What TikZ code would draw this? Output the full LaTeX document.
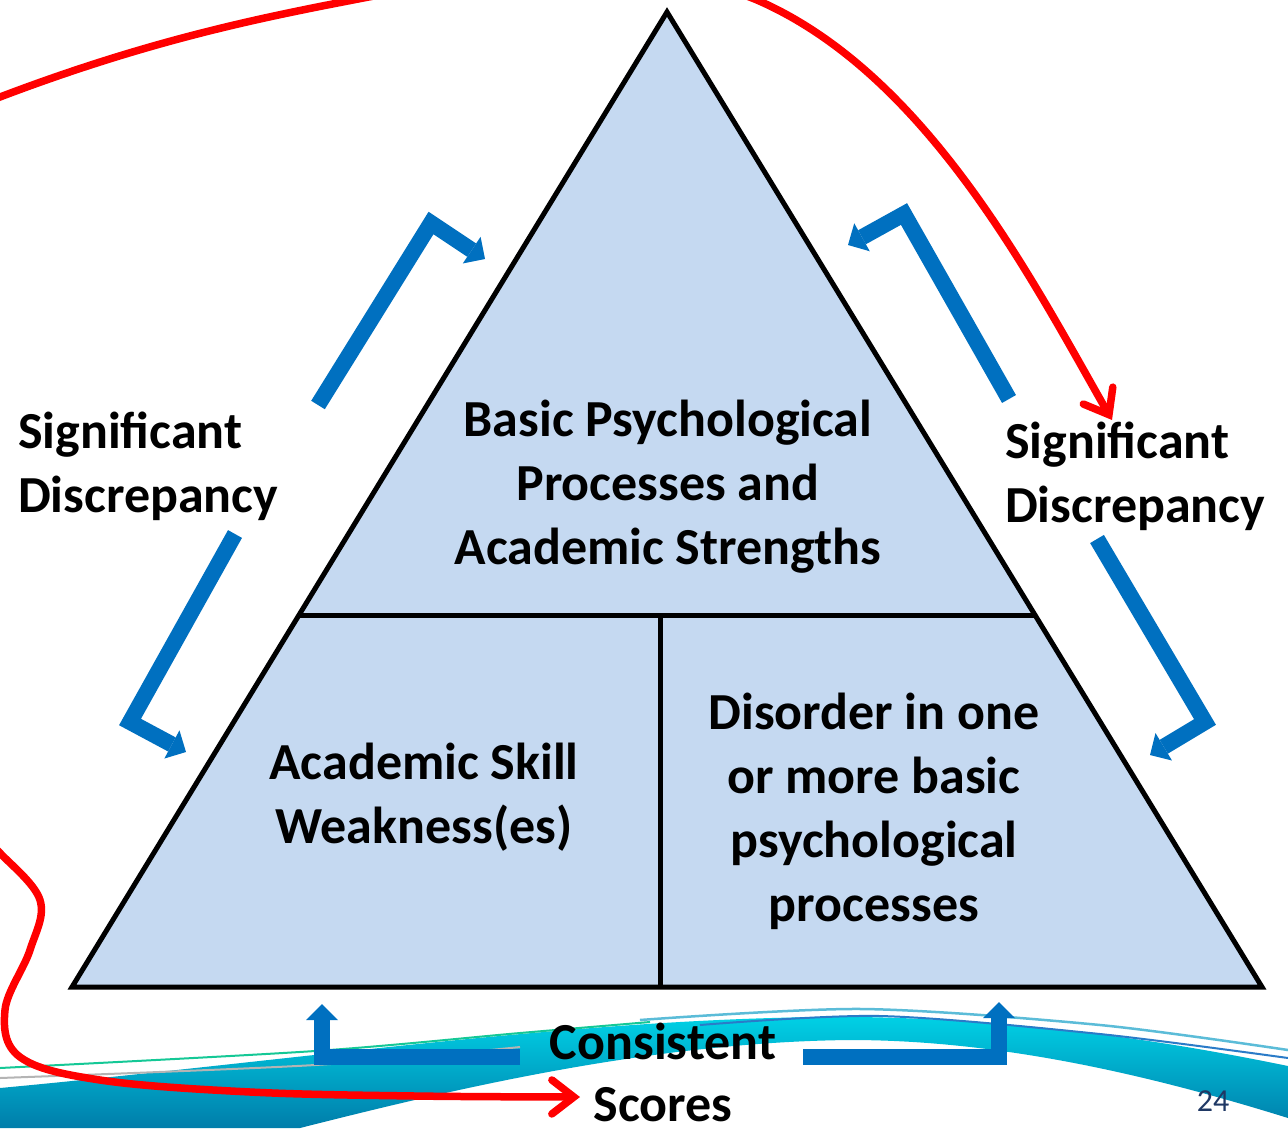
\documentclass[tikz,border=0pt]{standalone}
\usepackage{fontspec}
\setmainfont{Carlito}
\usetikzlibrary{arrows.meta}
\definecolor{trifill}{HTML}{C5D9F1}
\definecolor{arrblue}{HTML}{0070C0}
\definecolor{pagenum}{HTML}{1F3864}
\definecolor{bandtop}{HTML}{00D2E6}
\definecolor{bandbot}{HTML}{007DAA}
\definecolor{wavegreen}{HTML}{14C896}
\definecolor{wavegray}{HTML}{B4B4B4}
\definecolor{wavelight}{HTML}{5BBCD8}
\definecolor{wavedark}{HTML}{2A7BC8}
\begin{document}
\begin{tikzpicture}[x=1pt,y=-1pt,
  lbl/.style={font=\bfseries\fontsize{52}{64}\selectfont, align=center, inner sep=0pt},
  lbll/.style={lbl, align=left},
  bluearrow/.style={draw=arrblue, line width=16pt, line join=miter,
     -{Triangle[length=16pt,width=32pt,line width=0pt]}},
  redline/.style={draw=red, line width=7.5pt, line cap=round, line join=round,
     -{Straight Barb[length=22pt,width=34pt,line cap=round]}},
  edgeline/.style={draw=black, line width=5pt, line join=miter},
  waveline/.style={line width=2pt}
]
\clip (0,0) rectangle (1288,1128);
\fill[white] (0,0) rectangle (1288,1128);
% background wave
\shade[top color=bandtop, bottom color=bandbot]
  (0,1128) -- (0,1088) .. controls (300,1060) and (600,1015) .. (860,1017)
  .. controls (1050,1020) and (1200,1048) .. (1288,1066) -- (1288,1118)
  .. controls (1150,1075) and (1000,1040) .. (850,1040)
  .. controls (650,1042) and (450,1090) .. (300,1128) -- cycle;
\draw[waveline, wavegreen] plot[smooth] coordinates {(0,1068) (315,1051) (520,1033) (650,1022)};
\draw[waveline, wavegray] plot[smooth] coordinates {(0,1078) (315,1065) (520,1047)};
\draw[waveline, wavelight, line width=2.5pt] plot[smooth] coordinates {(640,1020) (862,1009) (1100,1025) (1288,1050)};
\draw[waveline, wavedark] plot[smooth] coordinates {(700,1025) (880,1016) (1100,1034) (1288,1058)};
% triangle
\coordinate (A) at (667,12);
\coordinate (BL) at (72,987);
\coordinate (BR) at (1262,987);
\coordinate (ML) at (299,615);
\coordinate (MR) at (1035,615);
\coordinate (MT) at (660,615);
\coordinate (MB) at (660,987);
\fill[trifill] (A) -- (BL) -- (BR) -- cycle;
\draw[edgeline] (ML) -- (MR);
\draw[edgeline] (MT) -- (MB);
\draw[edgeline] (A) -- (BL) -- (BR) -- cycle;
% texts
\node[lbl] (top) at (668,487) {Basic Psychological\\Processes and\\Academic Strengths};
\node[lbl] (weak) at (424,797) {Academic Skill\\Weakness(es)};
\node[lbl] (dis) at (874,811) {Disorder in one\\or more basic\\psychological\\processes};
\node[lbll, anchor=west] (sdl) at (18,466) {Significant\\Discrepancy};
\node[lbll, anchor=west] (sdr) at (1005,476) {Significant\\Discrepancy};
\node[lbl, anchor=base] (cons) at (663,1059) {Consistent};
\node[lbl, anchor=base] (scores) at (663,1121) {Scores};
\node[font=\fontsize{32}{36}\selectfont, text=pagenum, inner sep=0pt] (pg) at (1213,1101) {24};
% blue arrows
\coordinate (tl1) at (318,405); \coordinate (tl2) at (431,223); \coordinate (tl3) at (485,259);
\coordinate (ll1) at (235,534); \coordinate (ll2) at (130,722); \coordinate (ll3) at (186,752);
\coordinate (tr1) at (1009,399); \coordinate (tr2) at (904,214); \coordinate (tr3) at (848,245);
\coordinate (rr1) at (1097,539); \coordinate (rr2) at (1205,722); \coordinate (rr3) at (1150,755);
\coordinate (bl1) at (520,1057); \coordinate (bl2) at (322,1057); \coordinate (bl3) at (322,1004);
\coordinate (br1) at (803,1057); \coordinate (br2) at (999,1057); \coordinate (br3) at (999,1002);
\draw[bluearrow] (tl1) -- (tl2) -- (tl3);
\draw[bluearrow] (ll1) -- (ll2) -- (ll3);
\draw[bluearrow] (tr1) -- (tr2) -- (tr3);
\draw[bluearrow] (rr1) -- (rr2) -- (rr3);
\draw[bluearrow] (bl1) -- (bl2) -- (bl3);
\draw[bluearrow] (br1) -- (br2) -- (br3);
% red annotation strokes
\coordinate (r0) at (-20,105);
\coordinate (r1) at (0,97);
\coordinate (r2) at (353,0);
\coordinate (r3) at (757,0);
\coordinate (r4) at (1112,420);
\draw[redline] (r0) -- (r1) .. controls (150,40) and (260,18) .. (r2)
  .. controls (480,-25) and (650,-45) .. (r3)
  .. controls (927,74) and (1032,280) .. (r4);
\draw[redline] plot[smooth, tension=0.6] coordinates {(-20,835) (0,853) (40,900) (30,950) (5,1010) (20,1057) (100,1080) (250,1092) (415,1096) (580,1097)};
\end{tikzpicture}
\end{document}
